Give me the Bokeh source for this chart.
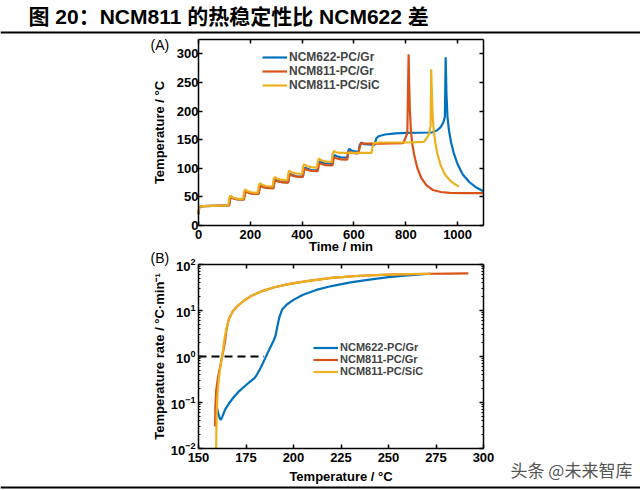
from bokeh.plotting import figure
from bokeh.models import (LinearAxis, LogAxis, Label, Legend, LegendItem, Range1d, Span,
                          LogScale, FixedTicker)
from bokeh.embed import file_html
from bokeh.resources import INLINE
import math

FONT = "Liberation Sans"
CJK = "Liberation Sans, Noto Sans CJK SC"
BLUE, RED, YEL = "#0072BD", "#D95319", "#EDB120"

TITLE = "图 20：NCM811 的热稳定性比 NCM622 差"
WATERMARK = "头条 @未来智库"
SERIES = ["NCM622-PC/Gr", "NCM811-PC/Gr", "NCM811-PC/SiC"]

# ---------------- Panel A: temperature vs time ----------------
a_xlim = (0, 1100)
a_ylim = (0, 325)
a_xticks = [0, 200, 400, 600, 800, 1000]
a_yticks = [0, 50, 100, 150, 200, 250, 300]

blue_t = [0, 3, 20, 118, 122, 126, 135, 150, 175, 179, 183, 192, 207, 232, 236, 240, 249, 264,
          289, 293, 297, 306, 321, 346, 350, 354, 363, 378, 403, 407, 411, 420, 435, 460, 464,
          468, 477, 492, 517, 521, 525, 534, 549, 574, 578, 582, 591, 606, 618, 622, 628, 640,
          680, 686, 695, 720, 760, 800, 900, 920, 935, 945, 951, 954, 957, 961, 967, 975, 985,
          1000, 1020, 1045, 1070, 1100]
blue_T = [20, 32, 34, 35, 47, 50, 48, 46, 45.5, 57, 60, 58, 56, 55.5, 67, 70, 68, 66,
          65.5, 77, 80, 78, 76, 75.5, 87, 90, 88, 86, 85.5, 98, 101, 99, 97, 96.5, 109,
          112, 110, 108, 107.5, 120, 123, 121, 119, 118.5, 130, 134, 131, 129, 129, 140, 145, 142,
          141, 152, 156, 159, 161, 162, 162.5, 166, 172, 180, 190, 294, 230, 190, 165, 145, 127,
          107, 89, 76, 67, 60]

red_t = [0, 3, 20, 118, 122, 126, 135, 150, 175, 179, 183, 192, 207, 232, 236, 240, 249, 264,
         289, 293, 297, 306, 321, 346, 350, 354, 363, 378, 403, 407, 411, 420, 435, 460, 464,
         468, 477, 492, 517, 521, 525, 534, 549, 574, 578, 582, 591, 606, 618, 622, 628, 640,
         700, 790, 798, 806, 811, 813, 816, 820, 826, 834, 845, 860, 880, 905, 935, 970, 1020, 1100]
red_T = [20, 32, 34, 35, 46, 49, 47, 45.5, 45, 56, 59, 57, 55.5, 55, 66, 69, 67, 65.5,
         65, 76, 79, 77, 75.5, 75, 86, 89, 87, 85.5, 85, 96, 99, 97, 95.5, 95, 106,
         109, 107, 105.5, 105, 116, 119, 117, 115.5, 115, 126, 129, 127, 126, 126, 137, 144, 143,
         143, 144, 152, 162, 299, 250, 200, 165, 140, 120, 100, 83, 70, 62, 58.5, 57, 56.5, 56.5]

yel_t = [0, 3, 20, 115, 119, 123, 132, 147, 172, 176, 180, 189, 204, 229, 233, 237, 246, 261,
         286, 290, 294, 303, 318, 343, 347, 351, 360, 375, 400, 404, 408, 417, 432, 457, 461,
         465, 474, 489, 514, 518, 522, 531, 546, 600, 668, 672, 678, 700, 800, 870, 880, 890,
         896, 898, 901, 904, 908, 914, 922, 935, 950, 970, 990, 1005]
yel_T = [22, 33, 34, 35, 48, 52, 49, 47, 46, 59, 63, 60, 58, 57, 70, 74, 71, 69,
         68, 81, 85, 82, 80, 79, 92, 96, 93, 91, 90, 103, 107, 104, 102, 101, 113,
         117, 114, 112, 111, 125, 130, 128, 127, 127, 127, 138, 144, 145, 145, 146, 152, 160,
         175, 273, 230, 190, 165, 145, 125, 105, 90, 79, 72, 68]

# ---------------- Panel B: rate vs temperature ----------------
b_xlim = (150, 300)
b_ylim = (0.01, 100)
b_xticks = [150, 175, 200, 225, 250, 275, 300]
b_yticks = [0.01, 0.1, 1, 10, 100]

bb_T = [159.4, 160.3, 161.2, 161.8, 162.6, 164, 166, 168.5, 171, 174, 177, 179.5, 181, 183, 185,
        187.5, 189.5, 190.5, 191.5, 192.5, 194, 196.5, 200, 205, 212, 220, 230, 240, 250, 260, 272]
bb_r = [0.09, 0.06, 0.045, 0.042, 0.05, 0.07, 0.095, 0.13, 0.17, 0.22, 0.28, 0.34, 0.42, 0.6, 0.9,
        1.5, 2.2, 2.8, 4.5, 7, 10.5, 13.5, 17, 22, 28, 34, 41, 47, 53, 58, 63]

rb_T = [158.7, 158.9, 159.3, 160, 161, 162, 163, 164, 164.8, 166, 168, 170.5, 174, 178, 183, 190,
        198, 208, 220, 235, 250, 262, 272, 282, 292]
rb_r = [0.03, 0.08, 0.18, 0.3, 0.5, 0.8, 1.3, 2.2, 4.0, 6.5, 9.5, 12.5, 16.5, 21, 26, 32,
        38, 44, 51, 57, 60, 62, 63, 63.5, 64]

yb_T = [159.3, 159.4, 159.6, 160, 160.6, 161.4, 162.4, 163.4, 164.5, 166, 168, 170.5, 174, 178,
        183, 190, 198, 208, 220, 235, 250, 262, 272]
yb_r = [0.01, 0.02, 0.06, 0.15, 0.3, 0.55, 1.0, 2.0, 3.8, 6.5, 9.5, 12.5, 16.5, 21,
        26, 32, 38, 44, 51, 57, 60, 62, 63]

dash_T = [150, 184.5]
dash_r = [1, 1]

# ---------------- page geometry (pixels, from top-left) ----------------
W, H = 640, 490
A_BOX = (198, 483, 39, 225)    # left, right, top, bottom
B_BOX = (198, 483, 264, 448)


def lin_range(lo, hi, p0, p1, total):
    s = (p1 - p0) / (hi - lo)
    return Range1d(lo - p0 / s, hi + (total - p1) / s)


def log_range(lo, hi, p0, p1, total):
    a, b = math.log10(lo), math.log10(hi)
    s = (p1 - p0) / (b - a)
    return Range1d(10 ** (a - p0 / s), 10 ** (b + (total - p1) / s))


ax_rng = lin_range(a_xlim[0], a_xlim[1], A_BOX[0], A_BOX[1], W)
ay_rng = lin_range(a_ylim[0], a_ylim[1], H - A_BOX[3], H - A_BOX[2], H)
bx_rng = lin_range(b_xlim[0], b_xlim[1], B_BOX[0], B_BOX[1], W)
by_rng = log_range(b_ylim[0], b_ylim[1], H - B_BOX[3], H - B_BOX[2], H)

p = figure(width=W, height=H, output_backend="svg", toolbar_location=None, title=None,
           x_range=ax_rng, y_range=ay_rng, x_axis_type=None, y_axis_type=None,
           min_border=0, min_border_left=0, min_border_right=0, min_border_top=0,
           min_border_bottom=0,
           extra_x_ranges={"bx": bx_rng}, extra_y_ranges={"by": by_rng},
           extra_y_scales={"by": LogScale()})
p.background_fill_color = "white"
p.border_fill_color = "white"
p.outline_line_color = None
p.xgrid.visible = False
p.ygrid.visible = False


def style_axis(ax, show_labels=True, minor=False, standoff=3, label_standoff=1):
    ax.axis_line_color = "black"
    ax.axis_line_width = 1.5
    ax.major_tick_in = 4
    ax.major_tick_out = 0
    ax.major_tick_line_width = 1.5
    ax.major_tick_line_color = "black"
    if minor:
        ax.minor_tick_in = 2
        ax.minor_tick_out = 0
        ax.minor_tick_line_color = "black"
        ax.minor_tick_line_width = 1
    else:
        ax.minor_tick_line_color = None
    if show_labels:
        ax.major_label_text_font = FONT
        ax.major_label_text_font_style = "bold"
        ax.major_label_text_font_size = "13px"
        ax.major_label_text_color = "black"
        ax.major_label_standoff = standoff
        ax.axis_label_text_font = FONT
        ax.axis_label_text_font_style = "bold"
        ax.axis_label_text_font_size = "13px"
        ax.axis_label_text_color = "black"
        ax.axis_label_standoff = label_standoff
    else:
        ax.major_label_text_color = None
        ax.axis_label = None


# ---- panel A axes (box of four axes) ----
a_bottom = LinearAxis(fixed_location=a_ylim[0], bounds=a_xlim, ticker=a_xticks,
                      axis_label="Time / min")
style_axis(a_bottom, standoff=4, label_standoff=-3)
p.add_layout(a_bottom, "below")
a_top = LinearAxis(fixed_location=a_ylim[1], bounds=a_xlim, ticker=a_xticks)
style_axis(a_top, show_labels=False)
p.add_layout(a_top, "above")
a_left = LinearAxis(fixed_location=a_xlim[0], bounds=a_ylim, ticker=a_yticks,
                    axis_label="Temperature / °C")
style_axis(a_left, standoff=0, label_standoff=7)
p.add_layout(a_left, "left")
a_right = LinearAxis(fixed_location=a_xlim[1], bounds=a_ylim, ticker=a_yticks)
style_axis(a_right, show_labels=False)
p.add_layout(a_right, "right")

# ---- panel B axes ----
b_minor = [m * d for d in (0.01, 0.1, 1, 10) for m in range(2, 10)]
rn = dict(x_range_name="bx", y_range_name="by")
b_bottom = LinearAxis(fixed_location=b_ylim[0], bounds=b_xlim, ticker=b_xticks,
                      axis_label="Temperature / °C", **rn)
style_axis(b_bottom, standoff=4, label_standoff=4)
p.add_layout(b_bottom, "below")
b_top = LinearAxis(fixed_location=b_ylim[1], bounds=b_xlim, ticker=b_xticks, **rn)
style_axis(b_top, show_labels=False)
p.add_layout(b_top, "above")
b_left = LogAxis(fixed_location=b_xlim[0], bounds=b_ylim,
                 ticker=FixedTicker(ticks=b_yticks, minor_ticks=b_minor),
                 axis_label="Temperature rate / °C·min⁻¹", **rn)
style_axis(b_left, minor=True, standoff=3, label_standoff=1)
p.add_layout(b_left, "left")
b_right = LogAxis(fixed_location=b_xlim[1], bounds=b_ylim,
                  ticker=FixedTicker(ticks=b_yticks, minor_ticks=b_minor), **rn)
style_axis(b_right, show_labels=False, minor=True)
p.add_layout(b_right, "right")

# ---- data ----
la_b = p.line(blue_t, blue_T, line_color=BLUE, line_width=2.2)
la_r = p.line(red_t, red_T, line_color=RED, line_width=2.2)
la_y = p.line(yel_t, yel_T, line_color=YEL, line_width=2.2)

p.line(dash_T, dash_r, line_color="black", line_width=2, line_dash="8 5", **rn)
lb_b = p.line(bb_T, bb_r, line_color=BLUE, line_width=2.2, **rn)
lb_r = p.line(rb_T, rb_r, line_color=RED, line_width=2.2, **rn)
lb_y = p.line(yb_T, yb_r, line_color=YEL, line_width=2.2, **rn)

leg_common = dict(padding=0, margin=0, spacing=0, glyph_width=25, label_standoff=2,
                  label_text_font=FONT, label_text_font_style="bold",
                  border_line_alpha=0, background_fill_alpha=0)
leg_a = Legend(items=[LegendItem(label=SERIES[0], renderers=[la_b]),
                      LegendItem(label=SERIES[1], renderers=[la_r]),
                      LegendItem(label=SERIES[2], renderers=[la_y])],
               location=(262, 398), glyph_height=12, label_height=12,
               label_text_font_size="12px", **leg_common)
p.add_layout(leg_a)
leg_b = Legend(items=[LegendItem(label=SERIES[0], renderers=[lb_b]),
                      LegendItem(label=SERIES[1], renderers=[lb_r]),
                      LegendItem(label=SERIES[2], renderers=[lb_y])],
               location=(313, 113), glyph_height=11, label_height=11,
               label_text_font_size="11px", **leg_common)
p.add_layout(leg_b)

# ---- page texts and rules ----
p.add_layout(Label(x=28, y=H - 16, x_units="screen", y_units="screen", text=TITLE,
                   text_font=CJK, text_font_style="bold", text_font_size="21px",
                   text_color="black", text_baseline="middle"))
p.add_layout(Span(location=H - 32, location_units="screen", dimension="width",
                  line_color="black", line_width=2))
p.add_layout(Span(location=H - 487, location_units="screen", dimension="width",
                  line_color="black", line_width=2))
p.add_layout(Label(x=150, y=H - 44, x_units="screen", y_units="screen", text="(A)",
                   text_font=FONT, text_font_size="14px", text_color="black",
                   text_baseline="middle"))
p.add_layout(Label(x=150, y=H - 257, x_units="screen", y_units="screen", text="(B)",
                   text_font=FONT, text_font_size="14px", text_color="black",
                   text_baseline="middle"))
p.add_layout(Label(x=510, y=H - 469, x_units="screen", y_units="screen", text=WATERMARK,
                   text_font="Noto Sans CJK SC", text_font_size="17px", text_color="#555555",
                   text_baseline="middle"))

open("out.html", "w").write(file_html(p, INLINE))
